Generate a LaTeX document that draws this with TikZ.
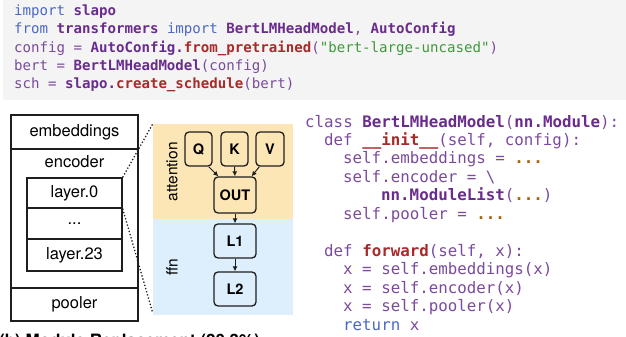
\documentclass[tikz,border=0pt]{standalone}
\usepackage{fontspec}
\setmainfont{TeX Gyre Heros}
\setmonofont{DejaVu Sans Mono}
\usetikzlibrary{arrows.meta,calc}
\definecolor{codebg}{HTML}{F4F4F4}
\definecolor{cpurple}{HTML}{7B4A9C}
\definecolor{cbold}{HTML}{6A2C8C}
\definecolor{cblue}{HTML}{4A68C4}
\definecolor{cred}{HTML}{A82A2A}
\definecolor{cgreen}{HTML}{3E9A3A}
\definecolor{corange}{HTML}{A8600E}
\definecolor{attbg}{HTML}{FDE6B6}
\definecolor{ffnbg}{HTML}{DDEFFD}
\definecolor{lineblk}{HTML}{1E1E1E}
\newcommand{\ckw}[1]{\textcolor{cblue}{#1}}
\newcommand{\cnm}[1]{\textcolor{cbold}{\bfseries #1}}
\newcommand{\cfn}[1]{\textcolor{cred}{\bfseries #1}}
\newcommand{\cst}[1]{\textcolor{cgreen}{#1}}
\newcommand{\cdt}[1]{\textcolor{corange}{\bfseries #1}}
\tikzset{
  codeA/.style={anchor=base west,inner sep=0pt,text=cpurple,font=\ttfamily\fontsize{14.1}{14.1}\selectfont},
  codeB/.style={anchor=base west,inner sep=0pt,text=cpurple,font=\ttfamily\fontsize{15.8}{15.8}\selectfont},
  blk/.style={draw=lineblk,line width=1.3pt,rectangle,inner sep=0pt,font=\fontsize{16.5}{16.5}\selectfont},
  rbox/.style={draw=lineblk,line width=1.3pt,rounded corners=4pt,inner sep=0pt,font=\bfseries\fontsize{14.5}{14.5}\selectfont},
  arr/.style={-{Latex[length=5pt,width=5pt]},line width=1pt,draw=lineblk},
  dots/.style={dotted,line width=1.3pt,draw=lineblk},
  lbl/.style={font=\fontsize{15.5}{15.5}\selectfont,rotate=90,inner sep=0pt}
}
\begin{document}
\begin{tikzpicture}[x=1pt,y=-1pt]
\useasboundingbox (0,0) rectangle (626,337);
% top code block
\fill[codebg] (3,0) rectangle (626,100);
\node[codeA] (t1) at (14,15.5) {\ckw{import} \cnm{slapo}};
\node[codeA] (t2) at (14,33.8) {\ckw{from} \cnm{transformers} \ckw{import} \cnm{BertLMHeadModel}, \cnm{AutoConfig}};
\node[codeA] (t3) at (14,52.1) {config = \cnm{AutoConfig.}\cfn{from\_pretrained}(\cst{"bert-large-uncased"})};
\node[codeA] (t4) at (14,70.4) {bert = \cnm{BertLMHeadModel}(config)};
\node[codeA] (t5) at (14,88.7) {sch = \cnm{slapo.}\cfn{create\_schedule}(bert)};
% left module diagram
\node[blk,minimum width=127pt,minimum height=34pt] (emb) at (74.5,132) {embeddings};
\node[blk,minimum width=127pt,minimum height=139pt] (enc) at (74.5,218.5) {};
\node[font=\fontsize{16.5}{16.5}\selectfont,inner sep=0pt] (enclbl) at (74.5,162) {encoder};
\node[blk,minimum width=127pt,minimum height=33pt] (pool) at (74.5,304.5) {pooler};
\node[blk,minimum width=95pt,minimum height=30pt] (l0) at (74.5,193) {layer.0};
\node[blk,minimum width=95pt,minimum height=31pt] (ld) at (74.5,223.5) {...};
\node[blk,minimum width=95pt,minimum height=32pt] (l23) at (74.5,255) {layer.23};
% panel
\node[fill=attbg,minimum width=140pt,minimum height=95pt,inner sep=0pt] (att) at (223,171.5) {};
\node[fill=ffnbg,minimum width=140pt,minimum height=96pt,inner sep=0pt] (ffn) at (223,267) {};
\node[lbl] (attl) at (172,172) {attention};
\node[lbl] (ffnl) at (172,267) {ffn};
\node[rbox,fill=attbg,minimum width=27pt,minimum height=34pt] (Q) at (198.5,149) {Q};
\node[rbox,fill=attbg,minimum width=27pt,minimum height=34pt] (K) at (234.5,149) {K};
\node[rbox,fill=attbg,minimum width=28pt,minimum height=34pt] (V) at (270,149) {V};
\node[rbox,fill=attbg,minimum width=42pt,minimum height=36pt] (OUT) at (235,195) {OUT};
\node[rbox,fill=ffnbg,minimum width=42pt,minimum height=34pt] (L1) at (235,241) {L1};
\node[rbox,fill=ffnbg,minimum width=42pt,minimum height=34pt] (L2) at (235,289) {L2};
\draw[arr] ($(Q.south east)+(-4,0)$) -- ($(OUT.north west)+(5,0)$);
\draw[arr] (K.south) -- (OUT.north);
\draw[arr] ($(V.south west)+(4,0)$) -- ($(OUT.north east)+(-5,0)$);
\draw[arr] (OUT.south) -- (L1.north);
\draw[arr] (L1.south) -- (L2.north);
\draw[dots] (l0.north east) -- (att.north west);
\draw[dots] (l0.south east) -- ($(ffn.south west)+(0,-2)$);
% right code
\node[codeB] (r1) at (305,127) {class \cnm{BertLMHeadModel}(\cnm{nn.Module}):};
\node[codeB] (r2) at (324,145.45) {def \cfn{\_\_init\_\_}(self, config):};
\node[codeB] (r3) at (343,163.9) {self.embeddings = \cdt{...}};
\node[codeB] (r4) at (343,182.35) {self.encoder = \textbackslash};
\node[codeB] (r5) at (381,200.8) {\cnm{nn.ModuleList}(\cdt{...})};
\node[codeB] (r6) at (343,219.25) {self.pooler = \cdt{...}};
\node[codeB] (r8) at (324,256.15) {def \cfn{forward}(self, x):};
\node[codeB] (r9) at (343,274.6) {x = self.embeddings(x)};
\node[codeB] (r10) at (343,293.05) {x = self.encoder(x)};
\node[codeB] (r11) at (343,311.5) {x = self.pooler(x)};
\node[codeB] (r12) at (343,330) {\ckw{return} x};
% caption (clipped at the bottom edge, as in the reference)
\node[anchor=base west,inner sep=0pt,font=\bfseries\fontsize{17}{17}\selectfont] (cap) at (-1,346) {(b) Module Replacement (20.3\%)};
\end{tikzpicture}
\end{document}
